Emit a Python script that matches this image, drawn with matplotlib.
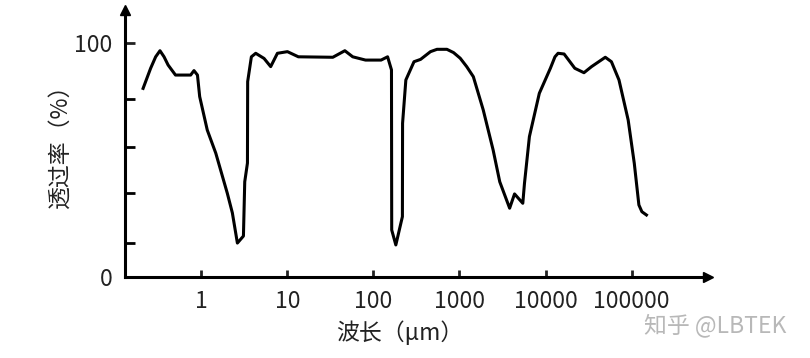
import numpy as np
import matplotlib
matplotlib.use("Agg")
from matplotlib import pyplot as plt

plt.rcParams['font.family'] = ['Noto Sans CJK SC', 'DejaVu Sans']

# wavelength (um) and transmittance (%)
wavelength = [0.21, 0.257, 0.294, 0.33, 0.368, 0.41, 0.50, 0.75, 0.82, 0.90, 0.955, 1.17,
              1.47, 2.0, 2.29, 2.62, 3.08, 3.19, 3.43, 3.45, 3.81, 4.28, 5.35, 6.39,
              7.65, 10, 13.4, 33.7, 46.5, 57.4, 80.9, 122.6, 146, 162, 163, 182, 217,
              218, 238, 296, 353, 460, 548, 714, 853, 1019, 1213, 1449, 1888, 2460,
              2938, 3828, 4366, 5444, 5694, 6499, 8473, 11390, 12880, 13990, 16440,
              18580, 21900, 27980, 34280, 49540, 58360, 71450, 91360, 107600, 121700,
              131900, 149000]
transmit = [80.6, 89.2, 94.1, 96.7, 94.1, 90.6, 86.3, 86.3, 88.2, 86.3, 77.1, 62.8,
            52.9, 35.8, 27.4, 14.5, 17.5, 40.7, 48.7, 83.5, 94.1, 95.6, 93.4, 89.9,
            95.6, 96.3, 94.1, 93.9, 96.7, 94.1, 92.7, 92.7, 94.1, 88.5, 20.1, 13.7,
            25.8, 65.7, 84.2, 92.0, 93.0, 96.3, 97.3, 97.3, 95.9, 93.5, 89.9, 85.6,
            71.4, 54.3, 40.7, 29.4, 35.5, 31.5, 40.0, 60.0, 78.5, 89.2, 94.1, 95.6,
            95.3, 92.7, 89.2, 87.3, 89.9, 93.9, 92.0, 84.2, 67.1, 48.6, 30.8, 27.9,
            26.5]

xticks = [1, 10, 100, 1000, 10000, 100000]
xticklabels = ["1", "10", "100", "1000", "10000", "100000"]
yminor = [14.5, 35.9, 55.6, 76]

fig = plt.figure(figsize=(8.1, 3.58), dpi=100)
ax = fig.add_axes([125/810, 1-277/358, (708-125)/810, (277-10)/358])

ax.plot(wavelength, transmit, color="black", lw=2.2, solid_joinstyle="round")

ax.set_xscale("log")
ax.set_xlim(0.1294, 7.74e5)
ax.set_ylim(0, 114.1)

for s in ["top", "right"]:
    ax.spines[s].set_visible(False)
for s in ["left", "bottom"]:
    ax.spines[s].set_linewidth(2.2)

ax.set_xticks(xticks)
ax.set_xticklabels(xticklabels)
ax.xaxis.set_minor_locator(matplotlib.ticker.NullLocator())
ax.set_yticks([0, 100])
ax.set_yticklabels(["0", "100"])
ax.set_yticks(yminor, minor=True)

ax.tick_params(axis="x", direction="in", length=5, width=2, pad=9, labelsize=16.5, colors="#222222")
ax.tick_params(axis="y", which="major", direction="in", length=7, width=2, pad=9, labelsize=16.5, colors="#222222")
ax.tick_params(axis="y", which="minor", direction="in", length=7, width=2)

# arrow heads
ax.plot(1, 0, marker=">", color="black", ms=7, transform=ax.transAxes, clip_on=False)
ax.plot(0, 1, marker="^", color="black", ms=7, transform=ax.transAxes, clip_on=False)

fig.text(400/810, 1-333/358, "波长（μm）", ha="center", va="center", fontsize=16.5, color="#222222")
fig.text(61/810, 1-140/358, "透过率（%）", ha="center", va="center", rotation=90, fontsize=16.5, color="#222222")
fig.text(715/810, 1-325/358, "知乎 @LBTEK", ha="center", va="center", fontsize=16.5, color="#b8b8b8")

fig.savefig("out.png", dpi=100)
